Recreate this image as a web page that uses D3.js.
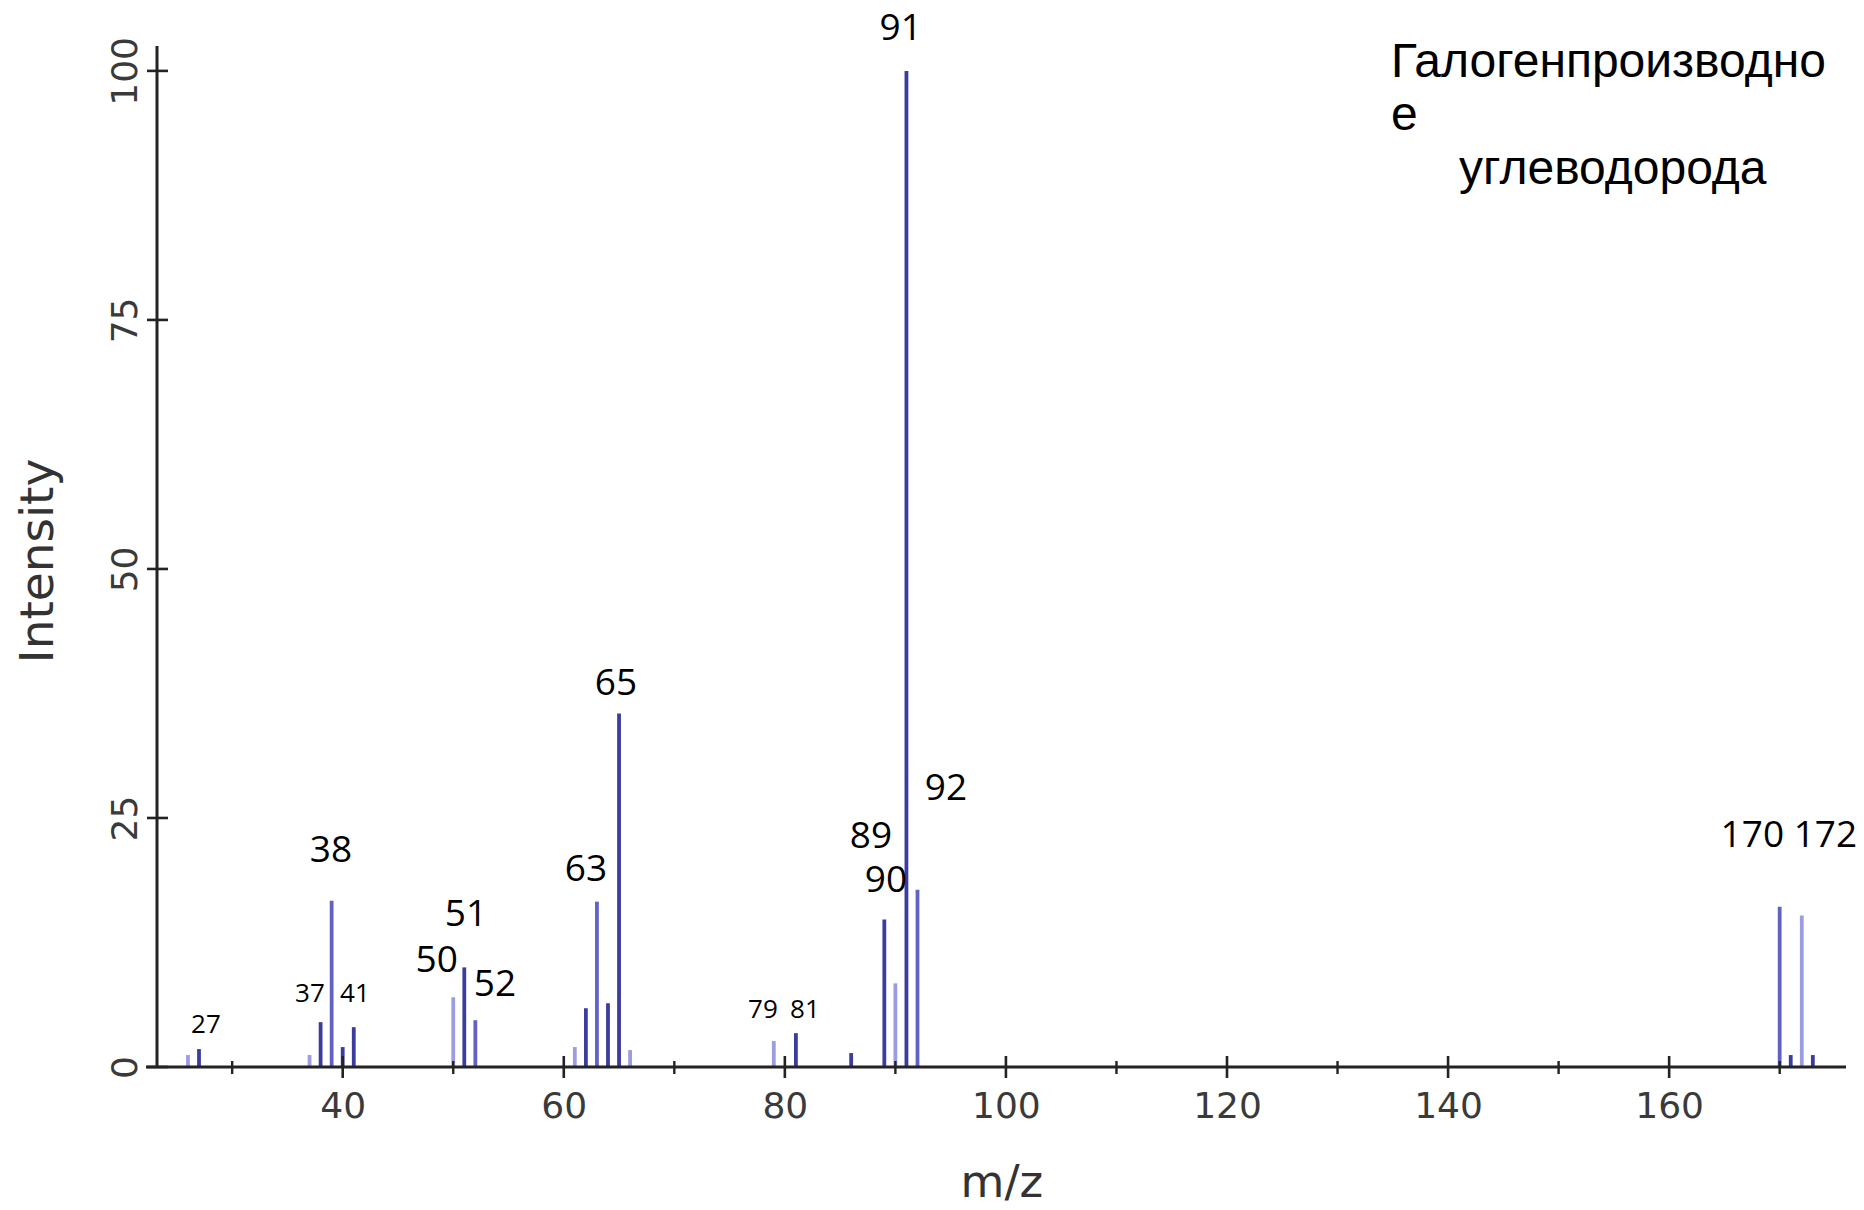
<!DOCTYPE html>
<html>
<head>
<meta charset="utf-8">
<script src="https://cdn.jsdelivr.net/npm/d3@7"></script>
<style>
  html, body { margin: 0; padding: 0; background: #ffffff; }
  svg { display: block; }
</style>
</head>
<body>
<svg id="chart" width="1864" height="1210"></svg>
<script>
// ---- data ----
const mzValues = [26, 27, 37, 38, 39, 40, 41, 50, 51, 52, 61, 62, 63, 64, 65, 66, 79, 81, 86, 89, 90, 91, 92, 170, 171, 172, 173];
const intensities = [1.2, 1.8, 1.2, 4.5, 16.7, 2.0, 4.0, 7.0, 10.0, 4.7, 2.0, 5.9, 16.6, 6.4, 35.5, 1.7, 2.6, 3.4, 1.4, 14.8, 8.4, 100, 17.8, 16.1, 1.2, 15.2, 1.2];

const xMajorTicks = [40, 60, 80, 100, 120, 140, 160];
const xMinorTicks = [30, 50, 70, 90, 110, 130, 150, 170];
const yTicks = [0, 25, 50, 75, 100];

// peak annotations: text and anchor in data units (m/z, intensity)
const labelTexts = ["27", "37", "41", "38", "50", "51", "52", "63", "65", "79", "81", "89", "90", "91", "92", "170 172"];
const labelMz = [27.63, 37.04, 41.11, 38.94, 48.50, 51.15, 53.78, 62.01, 64.72, 78.02, 81.82, 87.79, 89.15, 90.48, 94.57, 170.83];
const labelIntensity = [3.38, 6.53, 6.53, 20.58, 9.54, 14.13, 7.10, 18.67, 37.32, 4.89, 4.89, 22.03, 17.57, 103.1, 26.78, 22.09];

const titleLines = ["Галогенпроизводно", "е", "углеводорода"];
const xTitle = "m/z";
const yTitle = "Intensity";

// ---- styles ----
const smallLabels = new Set(["27", "37", "41", "79", "81"]);
const lightPeaks = new Set([26, 37, 50, 61, 66, 79, 90, 172]);
const midPeaks = new Set([39, 52, 63, 92, 170]);
const colDark = "#3c3c9e", colMid = "#6262c4", colLight = "#9c9ce0";

// ---- layout ----
const W = 1864, H = 1210;
const margin = { left: 157, top: 46, right: 18, bottom: 143 };
const innerW = W - margin.left - margin.right;
const innerH = H - margin.top - margin.bottom;

const svg = d3.select("#chart");
const g = svg.append("g").attr("transform", `translate(${margin.left},${margin.top})`);

const x = d3.scaleLinear().domain([23.2, 176]).range([0, innerW]);
const y = d3.scaleLinear().domain([0, 102.5]).range([innerH, 0]);

const peaks = mzValues.map((m, i) => ({ mz: m, v: intensities[i] }));

// bars (stick spectrum)
g.append("g").selectAll("line.peak")
  .data(peaks)
  .join("line")
  .attr("class", "peak")
  .attr("x1", d => x(d.mz)).attr("x2", d => x(d.mz))
  .attr("y1", y(0)).attr("y2", d => y(d.v))
  .attr("stroke", d => lightPeaks.has(d.mz) ? colLight : (midPeaks.has(d.mz) ? colMid : colDark))
  .attr("stroke-width", 3.8);

// x axis
const axisColor = "#232323";
const labelColor = "#3a3a3a";
const xAxisG = g.append("g").attr("transform", `translate(0,${innerH})`);
xAxisG.call(d3.axisBottom(x).tickValues(xMajorTicks).tickSize(0).tickPadding(25).tickFormat(d3.format("d")));
xAxisG.select(".domain").remove();
xAxisG.selectAll(".tick text")
  .attr("font-family", "DejaVu Sans").attr("font-size", 36).attr("fill", labelColor);
xAxisG.selectAll(".tick line").remove();
// axis baseline extends slightly left of y axis
xAxisG.append("line")
  .attr("x1", x(x.domain()[0]) - 11).attr("x2", x(x.domain()[1]))
  .attr("y1", 0).attr("y2", 0)
  .attr("stroke", axisColor).attr("stroke-width", 3);
xAxisG.selectAll("line.major").data(xMajorTicks).join("line").attr("class", "major")
  .attr("x1", d => x(d)).attr("x2", d => x(d)).attr("y1", -11).attr("y2", 11)
  .attr("stroke", axisColor).attr("stroke-width", 2.6);
xAxisG.selectAll("line.minor").data(xMinorTicks).join("line").attr("class", "minor")
  .attr("x1", d => x(d)).attr("x2", d => x(d)).attr("y1", -6).attr("y2", 7)
  .attr("stroke", axisColor).attr("stroke-width", 2.4);

// y axis
const yAxisG = g.append("g");
yAxisG.call(d3.axisLeft(y).tickValues(yTicks).tickSize(0).tickFormat(d3.format("d")));
yAxisG.select(".domain").remove();
yAxisG.selectAll(".tick text")
  .attr("font-family", "DejaVu Sans").attr("font-size", 36).attr("fill", labelColor)
  .attr("text-anchor", "middle").attr("dy", 0)
  .attr("x", 0).attr("y", 0)
  .attr("transform", "translate(-20,0) rotate(-90)");
yAxisG.append("line")
  .attr("x1", 0).attr("x2", 0).attr("y1", y(0)).attr("y2", y(y.domain()[1]))
  .attr("stroke", axisColor).attr("stroke-width", 3);
yAxisG.selectAll("line.ytick").data(yTicks).join("line").attr("class", "ytick")
  .attr("x1", -10).attr("x2", 11).attr("y1", d => y(d)).attr("y2", d => y(d))
  .attr("stroke", axisColor).attr("stroke-width", 2.6);

// axis titles
g.append("text")
  .attr("x", x(100) - 4).attr("y", innerH + 130)
  .attr("text-anchor", "middle")
  .attr("font-family", "DejaVu Sans").attr("font-size", 45).attr("fill", "#333")
  .text(xTitle);
g.append("text")
  .attr("transform", `translate(${-104},${y(50) - 8}) rotate(-90)`)
  .attr("text-anchor", "middle")
  .attr("font-family", "DejaVu Sans").attr("font-size", 47).attr("fill", "#333")
  .text(yTitle);

// peak labels
const labels = labelTexts.map((t, i) => ({ t, mz: labelMz[i], v: labelIntensity[i] }));
g.append("g").selectAll("text")
  .data(labels)
  .join("text")
  .attr("x", d => x(d.mz)).attr("y", d => y(d.v))
  .attr("text-anchor", "middle")
  .attr("font-family", "Open Sans")
  .attr("font-size", d => smallLabels.has(d.t) ? 26 : 37)
  .attr("fill", "#000")
  .text(d => d.t);

// title (top right)
const titleG = svg.append("g").attr("font-family", "'Liberation Sans', Arial, sans-serif").attr("font-size", 48).attr("fill", "#000");
titleG.append("text").attr("x", 1391).attr("y", 77).text(titleLines[0]);
titleG.append("text").attr("x", 1391).attr("y", 130).text(titleLines[1]);
titleG.append("text").attr("x", 1459).attr("y", 184).text(titleLines[2]);
</script>
</body>
</html>
